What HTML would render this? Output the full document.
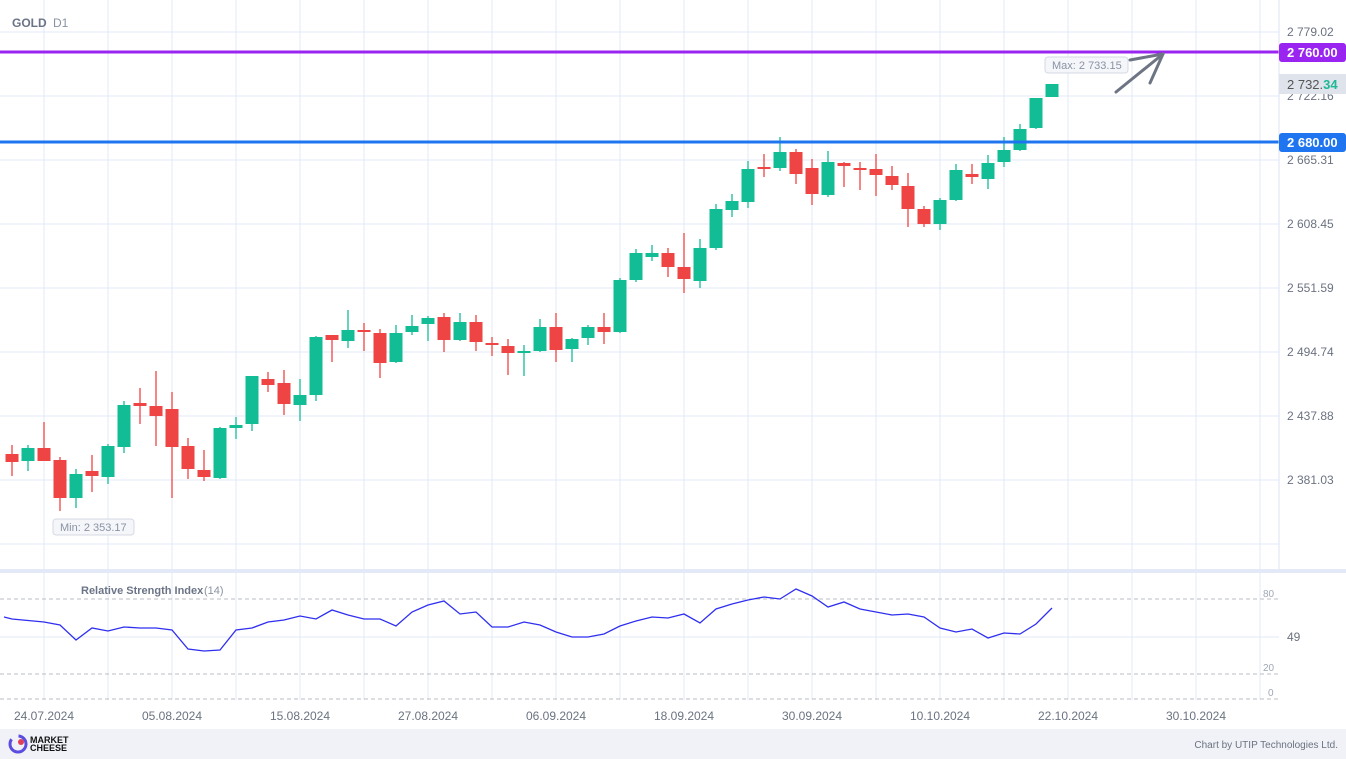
<!DOCTYPE html>
<html><head><meta charset="utf-8">
<style>
html,body{margin:0;padding:0;background:#fff;width:1346px;height:759px;overflow:hidden;font-family:"Liberation Sans",sans-serif}
svg{display:block}
text{font-family:"Liberation Sans",sans-serif}
</style></head><body>
<svg id="s" width="1346" height="759" xmlns="http://www.w3.org/2000/svg">
<rect width="1346" height="759" fill="#fff"/>
<g id="grid"></g>
<rect x="0" y="569" width="1346" height="4" fill="#e3e9f6"/>
<rect x="0" y="729" width="1346" height="30" fill="#f0f2f7"/>
<text x="12" y="27" font-size="12" font-weight="bold" fill="#6b7487">GOLD</text>
<text x="53" y="27" font-size="12" fill="#8a92a3">D1</text>
<g id="candles"></g>
<line x1="0" y1="52" x2="1279" y2="52" stroke="#9a24f0" stroke-width="3"/>
<line x1="0" y1="142" x2="1279" y2="142" stroke="#1f74f0" stroke-width="3"/>
<line x1="1279" y1="0" x2="1279" y2="569" stroke="#dde4f2"/>
<g font-size="12" fill="#6b7280">
<text x="1287" y="36">2 779.02</text>
<text x="1287" y="100">2 722.16</text>
<text x="1287" y="164">2 665.31</text>
<text x="1287" y="228">2 608.45</text>
<text x="1287" y="292">2 551.59</text>
<text x="1287" y="356">2 494.74</text>
<text x="1287" y="420">2 437.88</text>
<text x="1287" y="484">2 381.03</text>
</g>
<rect x="1279" y="43" width="67" height="19" rx="3" fill="#9a24f0"/>
<text x="1287" y="57" font-size="13" font-weight="bold" fill="#fff">2 760.00</text>
<rect x="1279" y="133" width="67" height="19" rx="3" fill="#1f74f0"/>
<text x="1287" y="147" font-size="13" font-weight="bold" fill="#fff">2 680.00</text>
<rect x="1279" y="74" width="67" height="20" fill="#dfe3eb"/>
<text x="1287" y="89" font-size="13" fill="#555"><tspan>2 732.</tspan><tspan fill="#20b896" font-weight="bold">34</tspan></text>
<rect x="1045" y="57" width="83" height="16" rx="3" fill="#f4f6fa" stroke="#d5dae3"/>
<text x="1052" y="69" font-size="11" fill="#8a92a3">Max: 2 733.15</text>
<rect x="53" y="519" width="81" height="16" rx="3" fill="#f4f6fa" stroke="#d5dae3"/>
<text x="60" y="531" font-size="11" fill="#8a92a3">Min: 2 353.17</text>
<g stroke="#6d7584" stroke-width="3" fill="none" stroke-linecap="round">
<line x1="1116" y1="92" x2="1163" y2="54"/>
<line x1="1130" y1="60" x2="1163" y2="54"/>
<line x1="1150" y1="83" x2="1163" y2="54"/>
</g>
<g id="rsi"></g>
<text x="81" y="594" font-size="11" font-weight="bold" fill="#6b7487">Relative Strength Index</text>
<text x="204" y="594" font-size="11" fill="#8a92a3">(14)</text>
<g font-size="10" fill="#a0a7b4">
<text x="1263" y="597">80</text><text x="1263" y="671">20</text><text x="1268" y="696">0</text>
</g>
<text x="1287" y="641" font-size="12" fill="#6b7280">49</text>
<g id="dates" font-size="12" fill="#6b7280" text-anchor="middle"></g>
<g>
<circle cx="18" cy="744" r="8" fill="none" stroke="#5b4de0" stroke-width="3" stroke-dasharray="30 8"/>
<circle cx="21" cy="742" r="3" fill="#e0405a"/>
<text x="30" y="743" font-size="9" font-weight="bold" fill="#111">MARKET</text>
<text x="30" y="751" font-size="9" font-weight="bold" fill="#111">CHEESE</text>
</g>
<text x="1338" y="748" font-size="10" fill="#6b7280" text-anchor="end">Chart by UTIP Technologies Ltd.</text>
</svg>
<script>
const NS="http://www.w3.org/2000/svg";
function el(p,t,a){const e=document.createElementNS(NS,t);for(const k in a)e.setAttribute(k,a[k]);p.appendChild(e);return e;}
const g=document.getElementById('grid');
for(let x=44;x<1279;x+=64){el(g,'line',{x1:x,y1:0,x2:x,y2:569,stroke:'#e3e9f6'});el(g,'line',{x1:x,y1:573,x2:x,y2:700,stroke:'#e3e9f6'});}
for(let y=32;y<=544;y+=64){el(g,'line',{x1:0,y1:y,x2:1279,y2:y,stroke:'#e3e9f6'});}
el(g,'line',{x1:0,y1:637,x2:1279,y2:637,stroke:'#e3e9f6'});
[599,674,699].forEach(y=>el(g,'line',{x1:0,y1:y,x2:1279,y2:y,stroke:'#b8bcc4','stroke-dasharray':'4 3'}));
// [color, bodyTop, bodyBot, hi, lo]
const C=[['r',454,462,445,476],['g',448,461,445,471],['r',448,461,422,461],['r',460,498,457,511],['g',474,498,469,508],['r',471,476,455,492],['g',446,477,444,484],['g',405,447,401,453],['r',403,406,388,424],['r',406,416,371,446],['r',409,447,392,498],['r',446,469,438,479],['r',470,477,450,481],['g',428,478,427,479],['g',425,428,417,439],['g',376,424,376,431],['r',379,385,372,392],['r',383,404,370,415],['g',395,405,379,421],['g',337,395,336,401],['r',335,340,335,362],['g',330,341,310,348],['r',330,331,323,351],['r',333,363,329,378],['g',333,362,325,363],['g',326,332,315,335],['g',318,324,316,341],['r',317,340,313,352],['g',322,340,313,341],['r',322,342,315,351],['r',343,345,337,356],['r',346,353,339,375],['g',351,353,345,376],['g',327,351,319,352],['r',327,350,313,362],['g',339,349,338,362],['g',327,338,325,345],['r',327,332,313,344],['g',280,332,278,333],['g',253,280,249,282],['g',253,257,245,261],['r',253,267,248,277],['r',267,279,233,293],['g',248,281,239,288],['g',209,248,204,250],['g',201,210,194,217],['g',169,202,161,208],['r',167,168,154,177],['g',152,168,137,171],['r',152,174,149,184],['r',168,194,159,205],['g',162,195,151,197],['r',163,166,162,187],['r',168,170,162,190],['r',169,175,154,196],['r',176,185,166,190],['r',186,209,173,227],['r',209,224,206,227],['g',200,224,198,230],['g',170,200,164,201],['r',174,177,164,184],['g',163,179,155,189],['g',150,162,137,167],['g',129,150,124,151],['g',98,128,98,129],['g',84,97,84,97]];
const cg=document.getElementById('candles');
C.forEach((c,i)=>{const x=12+i*16;const col=c[0]=='g'?'#12bd96':'#ef4444';
el(cg,'line',{x1:x,y1:c[3],x2:x,y2:c[4],stroke:col,'stroke-width':1.3});
el(cg,'rect',{x:x-6.5,y:c[1],width:13,height:Math.max(2,c[2]-c[1]),fill:col});});
const R=[[4,617],[12,619],[44,622],[60,625],[76,640],[92,628],[108,631],[124,627],[140,628],[156,628],[172,630],[188,649],[204,651],[220,650],[236,630],[252,628],[268,622],[284,620],[300,616],[316,619],[332,610],[348,615],[364,619],[380,619],[396,626],[412,612],[428,605],[444,601],[460,614],[476,612],[492,627],[508,627],[524,622],[540,625],[556,632],[572,637],[588,637],[604,634],[620,626],[636,621],[652,617],[668,618],[684,614],[700,623],[716,609],[732,604],[748,600],[764,597],[780,599],[796,589],[812,596],[828,607],[844,602],[860,609],[876,612],[892,615],[908,614],[924,617],[940,628],[956,632],[972,629],[988,638],[1004,633],[1020,634],[1036,624],[1052,608]];
el(document.getElementById('rsi'),'polyline',{points:R.map(p=>p.join(',')).join(' '),fill:'none',stroke:'#2f2ff0','stroke-width':1.3});
const D=['24.07.2024','05.08.2024','15.08.2024','27.08.2024','06.09.2024','18.09.2024','30.09.2024','10.10.2024','22.10.2024','30.10.2024'];
const dg=document.getElementById('dates');
D.forEach((d,i)=>{const t=el(dg,'text',{x:44+i*128,y:720});t.textContent=d;});
</script>
</body></html>
